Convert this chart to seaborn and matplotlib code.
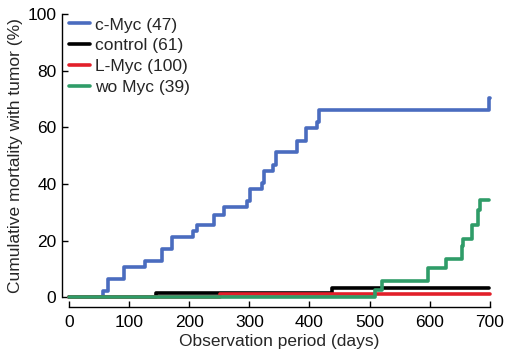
import pandas as pd
import matplotlib
matplotlib.use('Agg')
import matplotlib.pyplot as plt
import seaborn as sns

# data (days, cumulative %)
cmyc_days = [0, 57, 65, 92, 126, 154, 171, 207, 213, 241, 258, 297, 301, 321, 324, 340, 344, 380, 395, 412, 416, 698, 700]
cmyc_pct = [0, 2.1, 6.4, 10.6, 12.8, 17.0, 21.3, 23.4, 25.5, 29.0, 31.9, 34.0, 38.3, 40.4, 44.7, 46.8, 51.1, 55.3, 59.6, 61.7, 66.0, 70.2, 70.2]
control_days = [0, 144, 438, 698]
control_pct = [0, 1.6, 3.3, 3.3]
lmyc_days = [0, 251, 700]
lmyc_pct = [0, 1.0, 1.0]
womyc_days = [0, 509, 521, 597, 628, 653, 656, 671, 680, 683, 699]
womyc_pct = [0, 2.6, 5.6, 10.3, 13.4, 17.9, 20.5, 25.6, 30.8, 34.3, 34.3]

groups = ['c-Myc (47)', 'control (61)', 'L-Myc (100)', 'wo Myc (39)']
colors = ['#4a6cbf', '#000000', '#e2202a', '#2f9c68']

frames = []
for g, d, p in zip(groups,
                   [cmyc_days, control_days, lmyc_days, womyc_days],
                   [cmyc_pct, control_pct, lmyc_pct, womyc_pct]):
    frames.append(pd.DataFrame({'days': d, 'pct': p, 'group': g}))
df = pd.concat(frames, ignore_index=True)

sns.set_style('ticks')
plt.rcParams['font.family'] = ['Liberation Sans', 'DejaVu Sans']
fs = 12.5

fig, ax = plt.subplots(figsize=(5.07, 3.58), dpi=100)
fig.subplots_adjust(left=0.136, right=0.966, top=0.961, bottom=0.170)

sns.lineplot(data=df, x='days', y='pct', hue='group', hue_order=groups,
             palette=dict(zip(groups, colors)), drawstyle='steps-post',
             estimator=None, sort=False, linewidth=2.6, ax=ax)
for line in ax.lines:
    line.set_clip_on(False)

ax.set_xlim(0, 700)
ax.set_ylim(0, 100)
ax.set_xticks(range(0, 701, 100))
ax.set_yticks(range(0, 101, 20))
ax.tick_params(direction='in', length=4, width=1, labelsize=fs, colors='black')
ax.tick_params(axis='x', pad=6)
ax.tick_params(axis='y', pad=4)
ax.set_xlabel('Observation period (days)', fontsize=fs, labelpad=3)
ax.set_ylabel('Cumulative mortality with tumor (%)', fontsize=fs, labelpad=3)

sns.despine(ax=ax)
ax.spines['left'].set_position(('outward', 5))
ax.spines['bottom'].set_position(('outward', 7))
for s in ['left', 'bottom']:
    ax.spines[s].set_color('black')
    ax.spines[s].set_linewidth(1)

leg = ax.legend(loc='upper left', bbox_to_anchor=(0, 0.988), frameon=False,
                handlelength=1.2, handletextpad=0.3, labelspacing=0.33, fontsize=fs,
                borderpad=0, borderaxespad=0)
for h in leg.get_lines():
    h.set_linewidth(2.6)

fig.savefig('out.png', dpi=100)
